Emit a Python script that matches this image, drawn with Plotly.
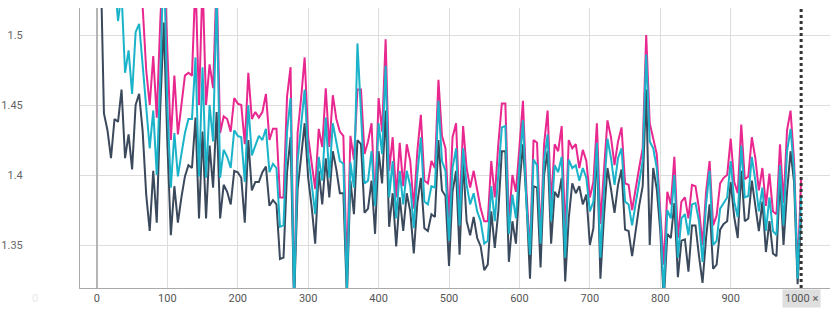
import plotly.graph_objects as go

steps = list(range(0, 1001, 5))

dark = [
    1.62, 1.56, 1.444, 1.432, 1.412, 1.440, 1.438, 1.461, 1.412, 1.429,
    1.404, 1.450, 1.458, 1.431, 1.386, 1.360, 1.403, 1.366, 1.448, 1.509,
    1.424, 1.357, 1.392, 1.366, 1.384, 1.399, 1.407, 1.405, 1.441, 1.369,
    1.431, 1.369, 1.421, 1.391, 1.445, 1.369, 1.393, 1.388, 1.379, 1.403,
    1.402, 1.398, 1.366, 1.425, 1.389, 1.395, 1.395, 1.402, 1.406, 1.378,
    1.382, 1.379, 1.340, 1.341, 1.402, 1.427, 1.310, 1.390, 1.413, 1.437,
    1.398, 1.377, 1.351, 1.403, 1.379, 1.412, 1.384, 1.417, 1.404, 1.387,
    1.387, 1.312, 1.396, 1.372, 1.425, 1.422, 1.373, 1.376, 1.396, 1.358,
    1.417, 1.394, 1.446, 1.363, 1.387, 1.349, 1.384, 1.360, 1.387, 1.374,
    1.344, 1.380, 1.398, 1.362, 1.360, 1.372, 1.370, 1.425, 1.389, 1.385,
    1.335, 1.388, 1.403, 1.343, 1.410, 1.367, 1.357, 1.370, 1.355, 1.349,
    1.332, 1.336, 1.374, 1.348, 1.374, 1.417, 1.417, 1.338, 1.367, 1.351,
    1.393, 1.422, 1.381, 1.326, 1.392, 1.391, 1.334, 1.400, 1.417, 1.351,
    1.388, 1.384, 1.398, 1.324, 1.369, 1.394, 1.387, 1.392, 1.379, 1.386,
    1.350, 1.362, 1.420, 1.326, 1.370, 1.405, 1.390, 1.373, 1.393, 1.404,
    1.361, 1.360, 1.342, 1.360, 1.378, 1.392, 1.461, 1.350, 1.405, 1.390,
    1.360, 1.310, 1.358, 1.355, 1.380, 1.327, 1.353, 1.354, 1.331, 1.364,
    1.364, 1.342, 1.323, 1.355, 1.379, 1.333, 1.336, 1.361, 1.365, 1.367,
    1.395, 1.370, 1.355, 1.403, 1.367, 1.369, 1.396, 1.378, 1.360, 1.381,
    1.345, 1.367, 1.344, 1.342, 1.398, 1.350, 1.388, 1.417, 1.395, 1.322,
    1.370,
]

cyan = [
    1.75, 1.68, 1.62, 1.58, 1.56, 1.54, 1.51, 1.53, 1.473, 1.489,
    1.458, 1.502, 1.508, 1.480, 1.450, 1.419, 1.446, 1.400, 1.470, 1.560,
    1.450, 1.391, 1.430, 1.399, 1.415, 1.430, 1.440, 1.440, 1.484, 1.399,
    1.477, 1.398, 1.450, 1.424, 1.530, 1.398, 1.418, 1.413, 1.405, 1.432,
    1.428, 1.427, 1.395, 1.450, 1.414, 1.421, 1.428, 1.425, 1.433, 1.402,
    1.408, 1.405, 1.363, 1.364, 1.431, 1.455, 1.310, 1.410, 1.435, 1.461,
    1.415, 1.391, 1.372, 1.413, 1.396, 1.441, 1.398, 1.437, 1.422, 1.410,
    1.408, 1.318, 1.409, 1.391, 1.494, 1.446, 1.394, 1.396, 1.417, 1.378,
    1.437, 1.415, 1.478, 1.384, 1.410, 1.369, 1.403, 1.379, 1.403, 1.392,
    1.362, 1.400, 1.427, 1.381, 1.379, 1.392, 1.391, 1.453, 1.410, 1.403,
    1.353, 1.405, 1.419, 1.364, 1.419, 1.393, 1.379, 1.387, 1.374, 1.367,
    1.351, 1.353, 1.392, 1.367, 1.398, 1.434, 1.435, 1.358, 1.386, 1.369,
    1.407, 1.439, 1.379, 1.343, 1.411, 1.407, 1.351, 1.410, 1.429, 1.367,
    1.407, 1.402, 1.413, 1.341, 1.411, 1.405, 1.407, 1.396, 1.405, 1.398,
    1.374, 1.381, 1.423, 1.341, 1.388, 1.426, 1.412, 1.393, 1.412, 1.419,
    1.381, 1.379, 1.364, 1.379, 1.393, 1.410, 1.486, 1.424, 1.419, 1.405,
    1.369, 1.315, 1.375, 1.369, 1.400, 1.341, 1.369, 1.372, 1.357, 1.379,
    1.380, 1.367, 1.338, 1.379, 1.403, 1.350, 1.353, 1.376, 1.380, 1.384,
    1.410, 1.381, 1.370, 1.421, 1.384, 1.385, 1.413, 1.396, 1.374, 1.391,
    1.360, 1.384, 1.360, 1.357, 1.407, 1.364, 1.417, 1.433, 1.403, 1.326,
    1.385,
]

pink = [
    1.80, 1.74, 1.69, 1.66, 1.63, 1.61, 1.59, 1.58, 1.57, 1.56,
    1.55, 1.545, 1.54, 1.52, 1.475, 1.450, 1.485, 1.441, 1.510, 1.560,
    1.490, 1.425, 1.471, 1.429, 1.450, 1.471, 1.473, 1.471, 1.540, 1.450,
    1.540, 1.450, 1.479, 1.462, 1.540, 1.430, 1.442, 1.440, 1.431, 1.455,
    1.451, 1.450, 1.422, 1.473, 1.440, 1.445, 1.441, 1.445, 1.458, 1.425,
    1.433, 1.433, 1.384, 1.384, 1.456, 1.477, 1.310, 1.430, 1.455, 1.484,
    1.427, 1.407, 1.390, 1.433, 1.420, 1.462, 1.420, 1.457, 1.440, 1.431,
    1.428, 1.330, 1.428, 1.411, 1.461, 1.461, 1.415, 1.424, 1.437, 1.379,
    1.455, 1.431, 1.497, 1.403, 1.427, 1.384, 1.423, 1.392, 1.422, 1.410,
    1.376, 1.417, 1.443, 1.396, 1.394, 1.410, 1.405, 1.468, 1.428, 1.419,
    1.369, 1.427, 1.437, 1.374, 1.435, 1.405, 1.391, 1.403, 1.388, 1.376,
    1.367, 1.367, 1.410, 1.384, 1.422, 1.451, 1.451, 1.367, 1.400, 1.388,
    1.420, 1.453, 1.388, 1.345, 1.425, 1.423, 1.355, 1.422, 1.446, 1.379,
    1.422, 1.417, 1.435, 1.357, 1.425, 1.419, 1.422, 1.405, 1.418, 1.410,
    1.384, 1.395, 1.437, 1.365, 1.403, 1.439, 1.427, 1.407, 1.424, 1.434,
    1.394, 1.393, 1.375, 1.391, 1.405, 1.419, 1.500, 1.437, 1.427, 1.415,
    1.374, 1.336, 1.388, 1.379, 1.413, 1.355, 1.381, 1.384, 1.369, 1.393,
    1.392, 1.376, 1.350, 1.388, 1.410, 1.364, 1.371, 1.394, 1.398, 1.400,
    1.426, 1.395, 1.387, 1.436, 1.397, 1.399, 1.427, 1.412, 1.389, 1.405,
    1.378, 1.401, 1.374, 1.372, 1.422, 1.380, 1.432, 1.446, 1.410, 1.331,
    1.397,
]

x_ticks = [0, 100, 200, 300, 400, 500, 600, 700, 800, 900]
y_ticks = [1.35, 1.4, 1.45, 1.5]
marker_step = 1000

fig = go.Figure()
fig.add_trace(go.Scatter(x=steps, y=pink, mode="lines", name="pink",
                         line=dict(color="#E8288F", width=2)))
fig.add_trace(go.Scatter(x=steps, y=dark, mode="lines", name="dark",
                         line=dict(color="#3B495C", width=2)))
fig.add_trace(go.Scatter(x=steps, y=cyan, mode="lines", name="cyan",
                         line=dict(color="#1BB3C9", width=2)))

fig.add_shape(type="line", x0=marker_step, x1=marker_step, y0=0, y1=1,
              xref="x", yref="paper",
              line=dict(color="#333333", width=3, dash="dot"))

fig.add_annotation(x=marker_step, y=-0.037, xref="x", yref="paper",
                   text="1000 \u00d7", showarrow=False,
                   font=dict(size=11, color="#555555", family="Roboto"),
                   bgcolor="#dedede", borderpad=2, yanchor="middle")
fig.add_annotation(x=-0.067, y=-0.037, xref="paper", yref="paper",
                   text="0", showarrow=False,
                   font=dict(size=11, color="#e8e8e8", family="Roboto"),
                   yanchor="middle")

fig.update_layout(
    width=830, height=311,
    margin=dict(l=80, r=0, t=8, b=23, autoexpand=False),
    plot_bgcolor="white", paper_bgcolor="white",
    showlegend=False,
    font=dict(family="Roboto", size=11, color="#666666"),
)
fig.update_xaxes(
    range=[-24, 1041], tickvals=x_ticks, showgrid=True,
    gridcolor="#dddddd", gridwidth=1, automargin=False,
    zeroline=True, zerolinecolor="#b5b5b5", zerolinewidth=1.5,
    showline=True, linecolor="#aaaaaa", linewidth=1,
    ticks="", tickfont=dict(size=11, color="#555555"),
)
fig.update_yaxes(
    range=[1.3193, 1.5193], tickvals=y_ticks, showgrid=True,
    gridcolor="#dddddd", gridwidth=1, zeroline=False, automargin=False,
    showline=True, linecolor="#aaaaaa", linewidth=1,
    ticks="", ticklabelstandoff=54, tickfont=dict(size=11, color="#666666"),
)

fig.write_html("out.html", config={"displayModeBar": False},
               post_script="document.body.style.margin='0';document.body.style.overflow='hidden';")
